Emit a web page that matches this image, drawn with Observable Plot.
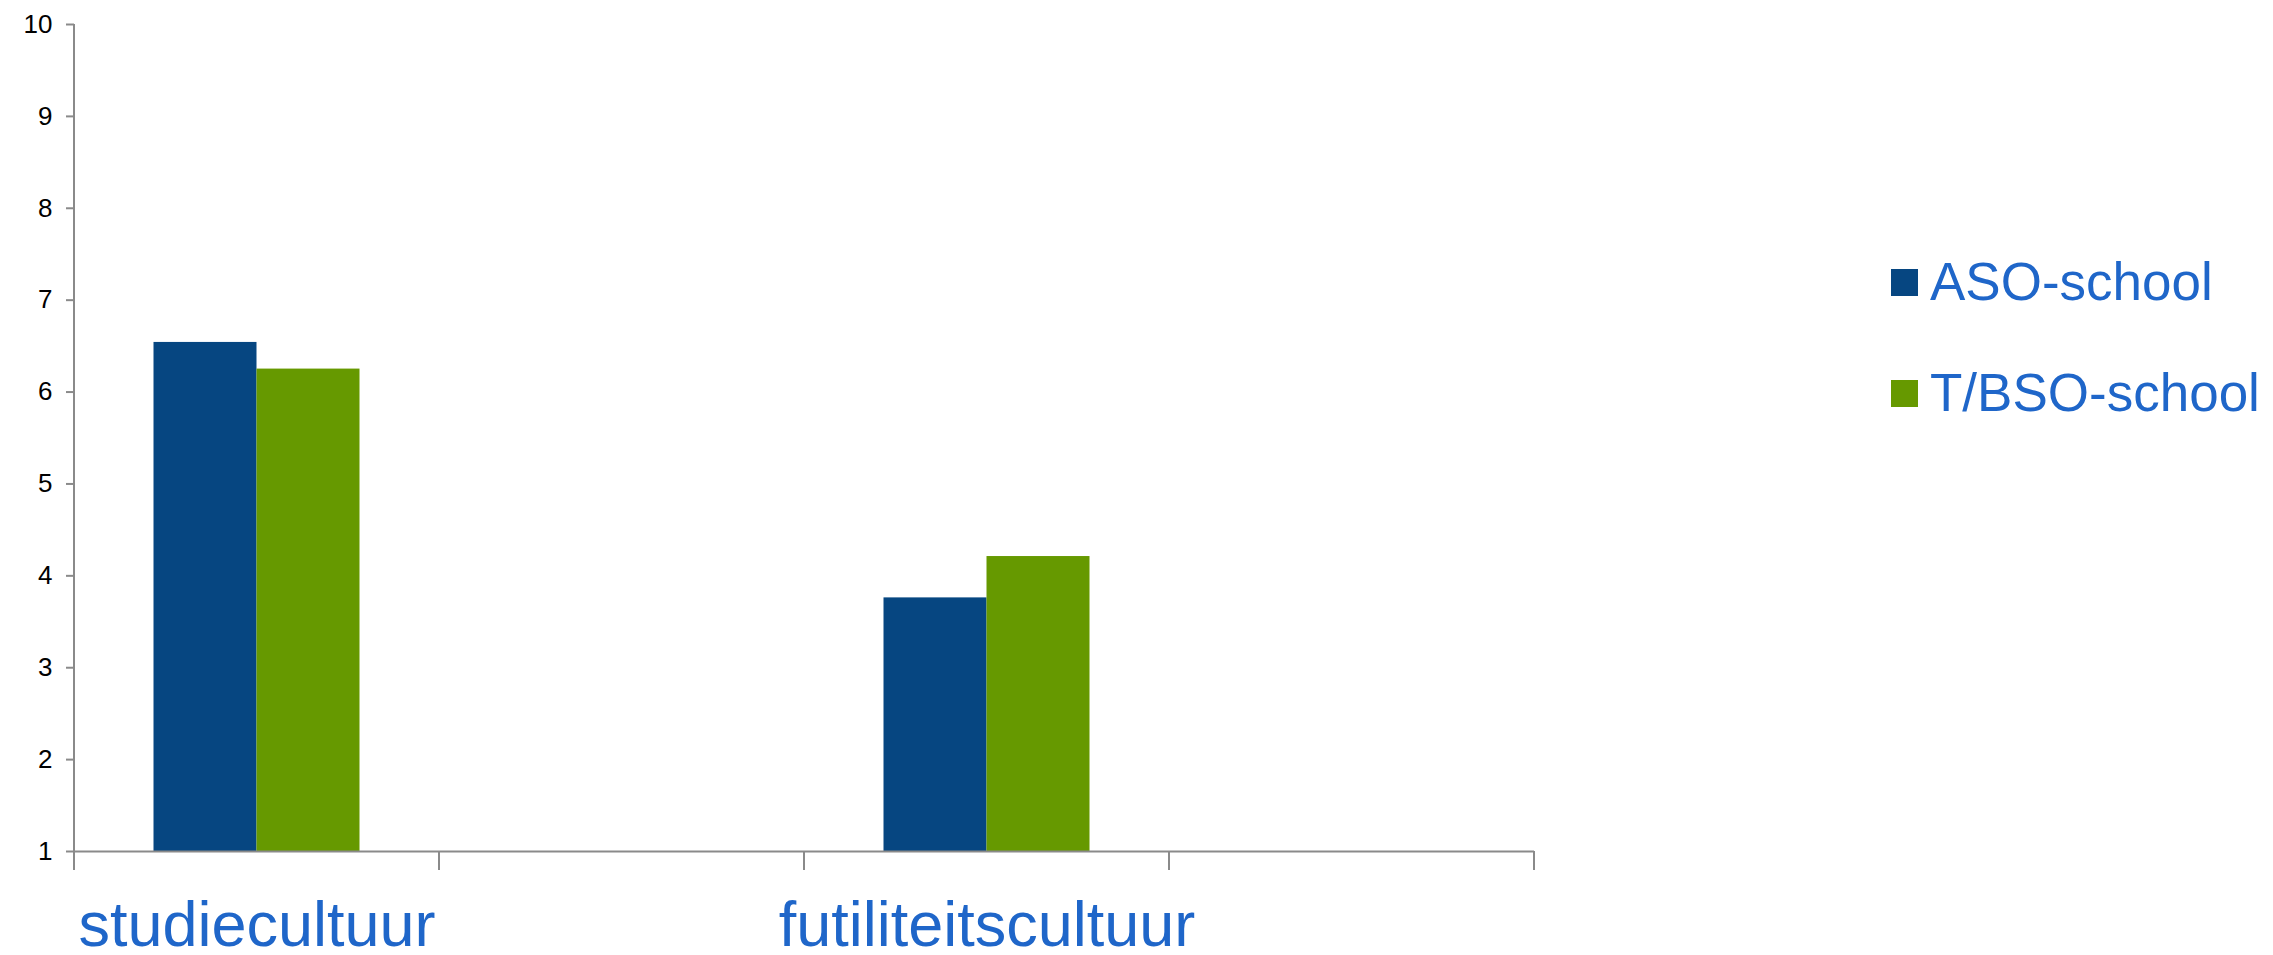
<!DOCTYPE html>
<html><head><meta charset="utf-8">
<script src="https://cdn.jsdelivr.net/npm/d3@7"></script>
<script src="https://cdn.jsdelivr.net/npm/@observablehq/plot@0.6"></script>
<style>
body{margin:0;background:#fff;font-family:"Liberation Sans",Arial,sans-serif;}
#wrap{position:relative;width:2273px;height:955px;overflow:hidden;}
.item{position:absolute;left:1891px;height:60px;width:380px;}
.sw{position:absolute;left:0;top:14px;width:27px;height:27px;}
.lb{position:absolute;left:39px;top:0;font-size:53px;line-height:53px;color:#1f66c9;white-space:nowrap;}
</style></head><body>
<div id="wrap"><div id="chart"></div></div>
<script>
const categories = ["studiecultuur", " ", "futiliteitscultuur", "  "];
const series = ["ASO-school", "T/BSO-school"];
const asoValues = [6.54, null, 3.76, null];
const tbsoValues = [6.25, null, 4.21, null];
const yDomain = [1, 10];
const yTicks = [1, 2, 3, 4, 5, 6, 7, 8, 9, 10];
const seriesColors = ["#064681", "#669900"];

const gray = "#8a8a8a";
const blue = "#1f66c9";

// one row per category/series (empty categories keep a null row so their facet is kept)
const data = [];
categories.forEach((c, i) => {
  data.push({category: c, series: series[0], value: asoValues[i]});
  data.push({category: c, series: series[1], value: tbsoValues[i]});
});

const plot = Plot.plot({
  width: 2273,
  height: 955,
  marginLeft: 72.5,
  marginRight: 738,
  marginTop: 24,
  marginBottom: 104,
  style: {fontFamily: "'Liberation Sans', Arial, sans-serif", background: "transparent", overflow: "visible"},
  fx: {domain: categories, padding: 0, label: null},
  x: {domain: series, paddingInner: 0, paddingOuter: 0.755, axis: null},
  y: {domain: yDomain, label: null},
  color: {domain: series, range: seriesColors},
  marks: [
    Plot.barY(data, {fx: "category", x: "series", y1: yDomain[0], y2: "value", fill: "series"}),
    Plot.ruleY([yDomain[0]], {stroke: gray, strokeWidth: 2}),
    Plot.axisY({ticks: yTicks, tickSize: 8, tickPadding: 14, fontSize: 26, fill: "#000", stroke: gray, strokeWidth: 2, label: null}),
    Plot.axisFx({anchor: "bottom", tickSize: 0, tickPadding: 50, fontSize: 63, fill: blue, label: null})
  ]
});

const svg = d3.select(plot);
const fx = plot.scale("fx");
const y = plot.scale("y");
const y0 = y.apply(yDomain[0]);
const y1 = y.apply(yDomain[1]);
const left = fx.apply(categories[0]);
svg.append("line").attr("x1", left).attr("x2", left).attr("y1", y1).attr("y2", y0 + 1)
  .attr("stroke", gray).attr("stroke-width", 2);
const bounds = categories.map(c => fx.apply(c));
bounds.push(fx.apply(categories[categories.length - 1]) + fx.bandwidth);
svg.append("g").selectAll("line").data(bounds).join("line")
  .attr("x1", d => d).attr("x2", d => d).attr("y1", y0).attr("y2", y0 + 19)
  .attr("stroke", gray).attr("stroke-width", 2);

const wrap = d3.select("#wrap");
d3.select("#chart").node().appendChild(plot);
const items = wrap.selectAll(".item").data(series).join("div").attr("class", "item")
  .style("top", (d, i) => (255 + i * 110.7) + "px");
items.append("div").attr("class", "sw").style("background", (d, i) => seriesColors[i]);
items.append("div").attr("class", "lb").text(d => d);
</script>
</body></html>
